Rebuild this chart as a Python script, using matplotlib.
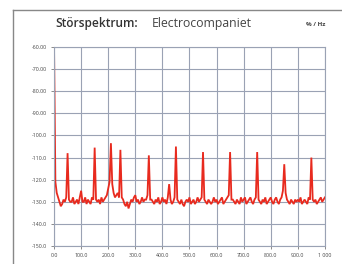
import numpy as np
import matplotlib
matplotlib.use("Agg")
import matplotlib.pyplot as plt
from matplotlib.lines import Line2D

# Data
freq_hz = np.arange(0, 1001, 5)
level_db = [
    -60, -121, -126, -128, -130, -132, -131, -129, -130, -128,
    -108, -129, -130, -130, -128, -131, -130, -129, -131, -128,
    -125, -130, -130, -128, -131, -129, -130, -131, -128, -129,
    -105.5, -129, -130, -129, -131, -128, -130, -129, -128, -127,
    -124, -121, -103.5, -122, -126, -128, -127, -126, -128, -106.5,
    -128, -129, -131, -132, -130, -133, -131, -129, -130, -128,
    -127, -130, -129, -131, -130, -128, -130, -129, -129, -127,
    -109, -129, -129, -130, -131, -129, -130, -128, -131, -130,
    -128, -130, -129, -131, -128, -122, -129, -131, -130, -128,
    -105, -129, -130, -131, -129, -131, -132, -130, -129, -130,
    -128, -131, -130, -129, -131, -130, -128, -130, -129, -128,
    -107.5, -129, -130, -131, -129, -130, -131, -130, -128, -130,
    -129, -131, -130, -129, -128, -131, -130, -129, -128, -127,
    -107.5, -129, -129, -130, -131, -129, -130, -131, -128, -130,
    -129, -128, -131, -130, -129, -128, -130, -131, -129, -128,
    -107.5, -129, -130, -131, -129, -130, -128, -131, -130, -129,
    -128, -130, -131, -129, -128, -130, -131, -129, -128, -125,
    -113, -126, -129, -130, -131, -129, -130, -131, -129, -130,
    -129, -130, -128, -131, -130, -129, -130, -131, -128, -129,
    -110, -129, -130, -129, -131, -130, -129, -128, -130, -129,
    -128,
]
x_ticks = [0, 100, 200, 300, 400, 500, 600, 700, 800, 900, 1000]
x_tick_labels = ["0.0", "100.0", "200.0", "300.0", "400.0", "500.0",
                 "600.0", "700.0", "800.0", "900.0", "1 000"]
y_ticks = [-60, -70, -80, -90, -100, -110, -120, -130, -140, -150]
y_tick_labels = ["-60.00", "-70.00", "-80.00", "-90.00", "-100.0",
                 "-110.0", "-120.0", "-130.0", "-140.0", "-150.0"]

plt.rcParams['font.family'] = ['Open Sans', 'DejaVu Sans']

fig = plt.figure(figsize=(3.42, 2.64), dpi=100, facecolor='white')
ax = fig.add_axes([0.158, 0.068, 0.792, 0.754])

ax.plot(freq_hz, level_db, color='#e82a1e', lw=1.3, solid_joinstyle='miter')
ax.set_xlim(0, 1000)
ax.set_ylim(-150, -60)
ax.set_xticks(x_ticks)
ax.set_xticklabels(x_tick_labels)
ax.set_yticks(y_ticks)
ax.set_yticklabels(y_tick_labels)
ax.tick_params(axis='both', labelsize=3.8, labelcolor='#444444', color='#777777',
               length=2, width=0.6, pad=3)
ax.grid(True, color='#9aa2b4', lw=0.8)
for s in ax.spines.values():
    s.set_color('#9aa2b4')
    s.set_linewidth(0.8)

# Title
fig.text(55/342, 1 - 24/264, "Störspektrum:", fontsize=8.6, fontweight='semibold',
         color='#333333', va='center', ha='left')
fig.text(152/342, 1 - 24/264, "Electrocompaniet", fontsize=8.8,
         color='#444444', va='center', ha='left')
fig.text(325/342, 1 - 24/264, "% / Hz", fontsize=4.5, fontweight='bold',
         color='#444444', va='center', ha='right')

# Outer frame
fig.add_artist(Line2D([13/342, 13/342], [0, 1 - 10/264], color='#888888', lw=1.0,
                      transform=fig.transFigure))
fig.add_artist(Line2D([13/342, 1], [1 - 10/264, 1 - 10/264], color='#888888', lw=1.0,
                      transform=fig.transFigure))

fig.savefig("out.png", dpi=100, facecolor='white')
